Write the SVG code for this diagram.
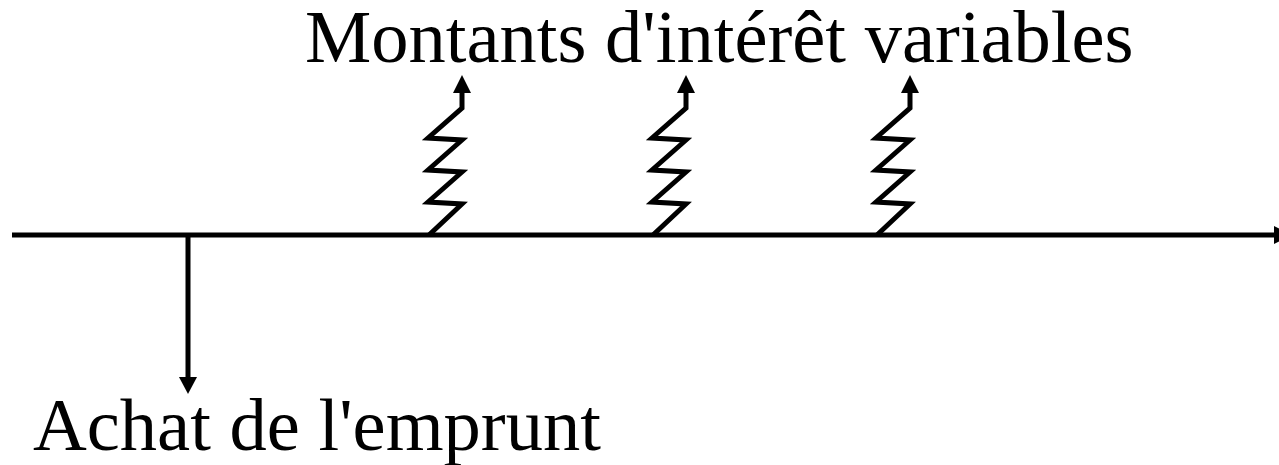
<svg xmlns="http://www.w3.org/2000/svg" width="1279" height="465" viewBox="0 0 1279 465">
<style>
.t{font-family:"Liberation Serif","Times New Roman",serif;font-size:74.5px;fill:#000}
.ln{fill:none;stroke:#000;stroke-width:5;stroke-linejoin:miter}
.ah{fill:#000;stroke:none}
</style>
<rect width="1279" height="465" fill="#fff"/>
<g id="connectors">
<line class="ln" x1="12" y1="235" x2="1276" y2="235"/>
<polygon class="ah" points="1274,226 1292,235 1274,244"/>
<line class="ln" x1="188" y1="235" x2="188" y2="380"/>
<polygon class="ah" points="179,377 197,377 188,394"/>
<polyline class="ln" points="429,235 462,204 428,202 462,172 428,170 462,140 428,138 462,108 462,90"/>
<polygon class="ah" points="453,93 471,93 462,75"/>
<polyline class="ln" points="653,235 686,204 652,202 686,172 652,170 686,140 652,138 686,108 686,90"/>
<polygon class="ah" points="677,93 695,93 686,75"/>
<polyline class="ln" points="877,235 910,204 876,202 910,172 876,170 910,140 876,138 910,108 910,90"/>
<polygon class="ah" points="901,93 919,93 910,75"/>
</g>
<g id="label-top"><text class="t" x="305" y="62">Montants d'intérêt variables</text></g>
<g id="label-bottom"><text class="t" x="33" y="450">Achat de l'emprunt</text></g>
</svg>
